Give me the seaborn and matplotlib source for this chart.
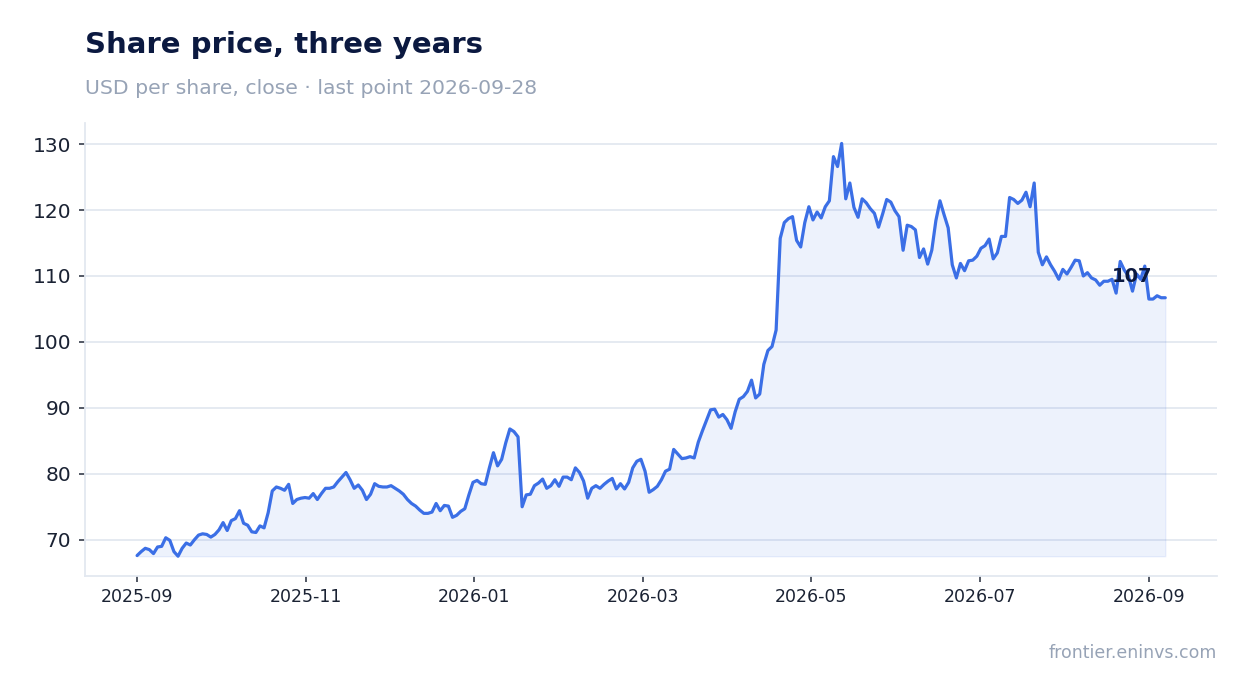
import matplotlib
matplotlib.use("Agg")
import matplotlib.pyplot as plt
import seaborn as sns
import pandas as pd

# ---- data ----
price = [
    67.6, 68.2, 68.7, 68.5, 67.9, 68.9, 69.0, 70.3, 69.9, 68.2,
    67.5, 68.7, 69.5, 69.2, 70.0, 70.7, 70.9, 70.8, 70.4, 70.8,
    71.5, 72.6, 71.4, 72.9, 73.2, 74.4, 72.5, 72.2, 71.2, 71.1,
    72.1, 71.8, 74.1, 77.4, 78.0, 77.8, 77.5, 78.4, 75.5, 76.1,
    76.3, 76.4, 76.3, 77.0, 76.1, 77.0, 77.8, 77.8, 78.0, 78.8,
    79.5, 80.2, 79.1, 77.8, 78.3, 77.5, 76.1, 76.9, 78.5, 78.1,
    78.0, 78.0, 78.2, 77.8, 77.4, 76.9, 76.1, 75.5, 75.1, 74.5,
    74.0, 74.0, 74.2, 75.5, 74.4, 75.2, 75.1, 73.4, 73.7, 74.3,
    74.7, 76.8, 78.7, 79.0, 78.5, 78.4, 80.9, 83.2, 81.2, 82.2,
    84.7, 86.8, 86.4, 85.6, 75.0, 76.8, 76.9, 78.2, 78.6, 79.2,
    77.8, 78.2, 79.1, 78.1, 79.5, 79.5, 79.1, 80.9, 80.2, 78.9,
    76.3, 77.8, 78.2, 77.8, 78.4, 78.9, 79.3, 77.7, 78.5, 77.7,
    78.7, 80.9, 81.9, 82.2, 80.4, 77.2, 77.6, 78.1, 79.1, 80.4,
    80.7, 83.7, 83.0, 82.3, 82.4, 82.6, 82.4, 84.8, 86.5, 88.1,
    89.7, 89.8, 88.6, 89.0, 88.2, 86.9, 89.4, 91.3, 91.7, 92.5,
    94.2, 91.5, 92.1, 96.6, 98.7, 99.3, 101.8, 115.7, 118.1, 118.7,
    119.0, 115.4, 114.4, 118.1, 120.5, 118.5, 119.7, 118.8, 120.5, 121.4,
    128.1, 126.6, 130.1, 121.7, 124.1, 120.4, 118.9, 121.7, 121.1, 120.2,
    119.5, 117.4, 119.4, 121.6, 121.2, 119.9, 119.0, 113.9, 117.7, 117.5,
    117.0, 112.8, 114.1, 111.8, 113.9, 118.4, 121.4, 119.3, 117.3, 111.7,
    109.7, 111.9, 110.8, 112.3, 112.4, 113.0, 114.2, 114.6, 115.6, 112.6,
    113.5, 116.0, 116.0, 121.9, 121.6, 121.0, 121.5, 122.7, 120.5, 124.1,
    113.6, 111.7, 112.9, 111.7, 110.7, 109.5, 111.0, 110.3, 111.3, 112.4,
    112.3, 110.0, 110.5, 109.7, 109.4, 108.6, 109.2, 109.2, 109.5, 107.4,
    112.2, 110.9, 110.0, 107.7, 110.3, 109.5, 111.5, 106.5, 106.5, 107.0,
    106.7, 106.7,
]
start_date = "2025-09-01"
end_date = "2026-09-07"
dates = pd.date_range(start_date, end_date, periods=len(price))
y_ticks = [70, 80, 90, 100, 110, 120, 130]
x_tick_labels = ["2025-09", "2025-11", "2026-01", "2026-03",
                 "2026-05", "2026-07", "2026-09"]
title = "Share price, three years"
subtitle = "USD per share, close · last point 2026-09-28"
source = "frontier.eninvs.com"
last_label = f"{price[-1]:.0f}"

df = pd.DataFrame({"date": dates, "price": price})

# ---- style ----
sns.set_theme(style="white")
plt.rcParams["font.family"] = ["DejaVu Sans"]

LINE = "#3b6fe6"
GRID = "#e3e8f0"
NAVY = "#0b1940"
GREY = "#97a3b6"
TICK = "#1a2233"

fig = plt.figure(figsize=(12.47, 6.93), dpi=100)
ax = fig.add_axes([85 / 1247, 1 - 576 / 693, (1217 - 85) / 1247, (576 - 123) / 693])

base = min(price)
ax.fill_between(df["date"], df["price"], base, facecolor=LINE, alpha=0.09,
                edgecolor=LINE, linewidth=1.0, zorder=1)
sns.lineplot(data=df, x="date", y="price", ax=ax, color=LINE, linewidth=2.3, zorder=3)

ax.set_ylim(64.5, 133.2)
ax.set_xlim(pd.Timestamp("2025-08-13 05:00"), pd.Timestamp("2026-09-25 16:00"))
ax.set_yticks(y_ticks)
# evenly spaced two-month ticks, as in the reference
tick_pos = pd.date_range("2025-09-01", "2026-09-01", periods=len(x_tick_labels))
ax.set_xticks(tick_pos, x_tick_labels)
ax.set_xlabel("")
ax.set_ylabel("")

ax.grid(axis="y", color=GRID, linewidth=1.3, zorder=0)
ax.grid(axis="x", visible=False)
ax.set_axisbelow(True)
for side in ["top", "right"]:
    ax.spines[side].set_visible(False)
for side in ["left", "bottom"]:
    ax.spines[side].set_color(GRID)
    ax.spines[side].set_linewidth(1.3)

ax.tick_params(axis="y", labelsize=14.5, labelcolor=TICK, length=4, width=1.3, pad=6,
               left=True, color="#444b58")
ax.tick_params(axis="x", labelsize=12.5, labelcolor=TICK, length=4, width=1.3, pad=5,
               bottom=True, color="#444b58")

ax.annotate(last_label, xy=(df["date"].iloc[-1], price[-1]), xytext=(-24, 15),
            textcoords="offset points", ha="center", va="center",
            fontsize=14, fontweight="bold", color=NAVY, zorder=5)

fig.text(85 / 1247, 1 - 53 / 693, title, fontsize=21, fontweight="bold",
         color=NAVY, ha="left", va="baseline")
fig.text(85 / 1247, 1 - 94 / 693, subtitle, fontsize=14.7, color=GREY,
         ha="left", va="baseline")
fig.text(1217 / 1247, 1 - 658 / 693, source, fontsize=12.5, color=GREY,
         ha="right", va="baseline")

fig.savefig("out.png", dpi=100)
